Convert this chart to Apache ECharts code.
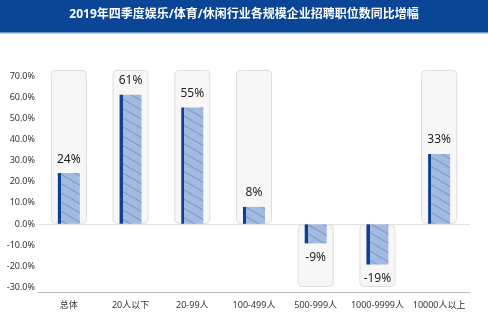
<!DOCTYPE html>
<html><head><meta charset="utf-8">
<script src="https://cdn.jsdelivr.net/npm/echarts@6/dist/echarts.min.js"></script>
<style>html,body{margin:0;padding:0;background:#fff}#c{width:488px;height:325px}</style>
</head><body><div id="c"></div>
<script>
const titleText = '2019年四季度娱乐/体育/休闲行业各规模企业招聘职位数同比增幅';
const categories = ['总体', '20人以下', '20-99人', '100-499人', '500-999人', '1000-9999人', '10000人以上'];
const values = [24, 61, 55, 8, -9, -19, 33];
const yTicks = [-30, -20, -10, 0, 10, 20, 30, 40, 50, 60, 70];
const bgTop = 72.8, bgBottom = -29.6;
const gapPos = 0.1, gapNeg = -0.15;

const chart = echarts.init(document.getElementById('c'), null, {renderer: 'canvas'});
const fontFam = '"Noto Sans", "Noto Sans CJK SC", sans-serif';
const gaps = values.map(v => v >= 0 ? gapPos : gapNeg);
chart.setOption({
  animation: false,
  graphic: [
    {type: 'rect', left: 0, top: 0, shape: {width: 488, height: 32}, style: {fill: '#0b4595'}, z: -1},
    {type: 'rect', left: 0, top: 32, shape: {width: 488, height: 1.5}, style: {fill: '#6c9ad6'}, z: -1},
    {type: 'text', left: 'center', top: 9, style: {text: titleText, fill: '#fff', font: 'bold 12px ' + fontFam}}
  ],
  grid: {left: 38, right: 18, top: 76, bottom: 37.5},
  xAxis: [
    {type: 'category', data: categories, position: 'bottom', offset: 4.5,
     axisLine: {onZero: false, lineStyle: {color: '#bdbdbd'}}, axisTick: {show: false},
     axisLabel: {color: '#333', fontSize: 9, margin: 9, fontFamily: fontFam, interval: 0}},
    {type: 'category', data: categories, position: 'bottom',
     axisLine: {onZero: true, lineStyle: {color: '#e2e2e2'}}, axisTick: {show: false},
     axisLabel: {show: false}}
  ],
  yAxis: {type: 'value', min: yTicks[0], max: yTicks[yTicks.length - 1], interval: 10,
    axisLine: {show: false}, axisTick: {show: false}, splitLine: {show: false},
    axisLabel: {color: '#333', fontSize: 9, margin: 3, fontFamily: fontFam,
      formatter: v => v.toFixed(1) + '%'}},
  series: [
    {type: 'bar', xAxisIndex: 0, barWidth: 36, stack: 'bg', data: gaps, silent: true,
     itemStyle: {color: 'rgba(0,0,0,0)'}},
    {type: 'bar', xAxisIndex: 0, barWidth: 36, clip: false, z: 1, stack: 'bg',
     data: values.map(v => v >= 0 ? bgTop : bgBottom),
     itemStyle: {color: '#f7f7f7', borderColor: '#dedede', borderWidth: 1, borderRadius: 4},
     silent: true},
    {type: 'bar', xAxisIndex: 1, barWidth: 22, stack: 'fg', data: gaps, silent: true,
     itemStyle: {color: 'rgba(0,0,0,0)'}},
    {type: 'bar', xAxisIndex: 1, barWidth: 22, z: 3, stack: 'fg',
     data: values,
     itemStyle: {
       color: {type: 'linear', x: 0, y: 0, x2: 1, y2: 0, colorStops: [
         {offset: 0, color: '#0c3f92'}, {offset: 0.14, color: '#0c3f92'},
         {offset: 0.14, color: '#a2badf'}, {offset: 1, color: '#a2badf'}]},
       decal: {symbol: 'rect', symbolSize: 1, color: 'rgba(50,80,150,0.35)',
         dashArrayX: [1, 0], dashArrayY: [1, 7], rotation: Math.PI / 6}
     },
     label: {show: true, position: 'outside', distance: 8, color: '#1e1e1e', fontSize: 12,
       fontFamily: fontFam, formatter: p => Math.round(p.value) + '%'}}
  ]
});
</script></body></html>
